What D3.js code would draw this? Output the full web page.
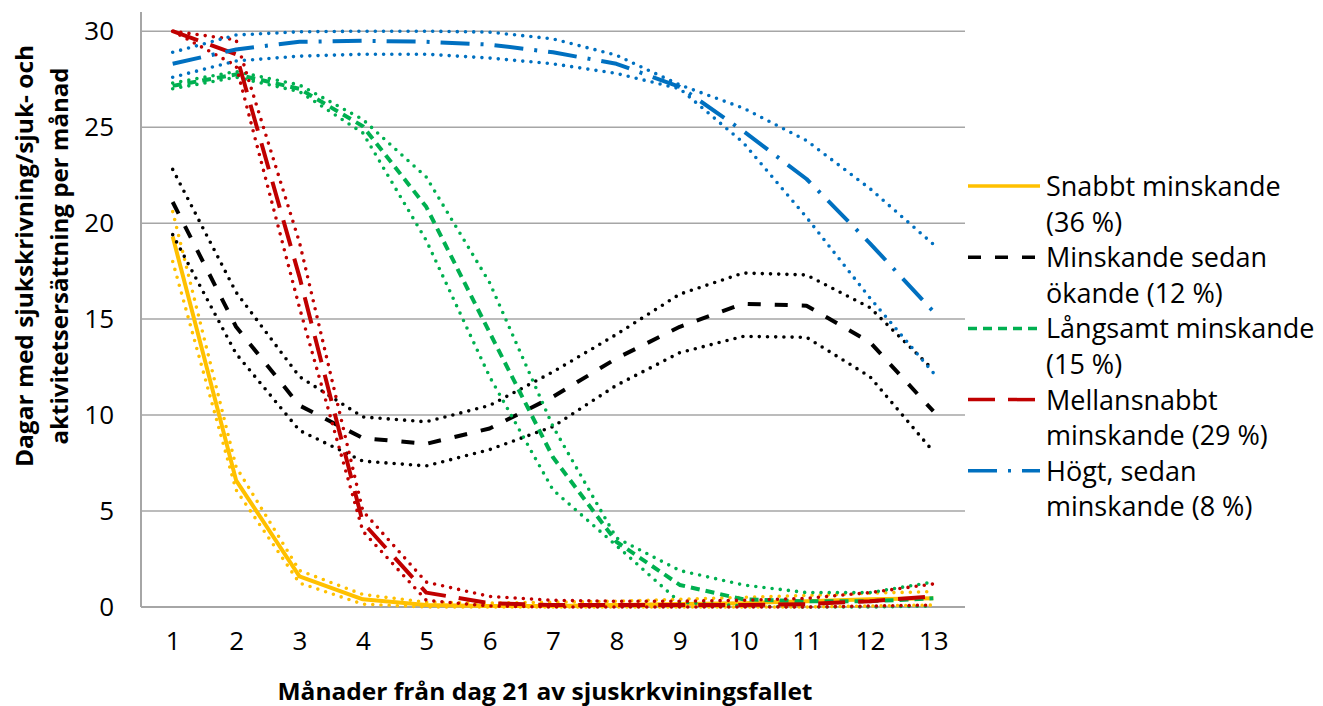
<!DOCTYPE html>
<html lang="sv">
<head>
<meta charset="utf-8">
<script src="https://cdn.jsdelivr.net/npm/d3@7/dist/d3.min.js"></script>
<style>
  html, body { margin: 0; padding: 0; background: #fff; }
  svg { display: block; font-family: "Open Sans", "DejaVu Sans", sans-serif; }
</style>
</head>
<body>
<svg id="chart" width="1323" height="706"></svg>
<script>
(function () {
  "use strict";

  // Månader 1..13 från dag 21
  const months = [1, 2, 3, 4, 5, 6, 7, 8, 9, 10, 11, 12, 13];
  const yTicks = [0, 5, 10, 15, 20, 25, 30];

  // Skattning + övre/nedre konfidensgräns (prickade linjer) per grupp
  const snabbt   = [19.3, 6.6, 1.6, 0.4, 0.1, 0.05, 0.05, 0.1, 0.15, 0.2, 0.3, 0.4, 0.45];
  const snabbtHi = [20.6, 7.3, 1.9, 0.65, 0.25, 0.2, 0.25, 0.3, 0.4, 0.5, 0.6, 0.72, 0.8];
  const snabbtLo = [18.0, 6.1, 1.25, 0.15, 0, 0, 0, 0, 0, 0, 0, 0.05, 0.1];

  const okande   = [21.1, 14.6, 10.5, 8.8, 8.5, 9.3, 10.95, 12.95, 14.6, 15.8, 15.7, 13.8, 10.2];
  const okandeHi = [22.8, 16.4, 12.0, 9.9, 9.65, 10.5, 12.25, 14.2, 16.3, 17.4, 17.3, 15.6, 12.35];
  const okandeLo = [19.4, 13.2, 9.2, 7.6, 7.35, 8.2, 9.4, 11.55, 13.25, 14.1, 14.05, 12.0, 8.1];

  const langsamt   = [27.15, 27.75, 27.0, 25.05, 20.85, 14.3, 7.8, 3.4, 1.15, 0.4, 0.3, 0.3, 0.45];
  const langsamtHi = [27.3, 27.9, 27.2, 25.4, 22.4, 16.9, 9.4, 3.6, 1.9, 1.15, 0.75, 0.75, 1.3];
  const langsamtLo = [27.0, 27.6, 26.85, 24.7, 19.1, 12.0, 6.1, 3.2, 0.25, 0.05, 0, 0, 0.05];

  const mellan   = [30.0, 28.8, 17.2, 4.4, 0.75, 0.2, 0.1, 0.1, 0.1, 0.1, 0.15, 0.3, 0.55];
  const mellanHi = [30.0, 29.55, 19.0, 5.0, 1.3, 0.55, 0.35, 0.3, 0.3, 0.35, 0.45, 0.75, 1.2];
  const mellanLo = [30.0, 28.2, 15.6, 3.95, 0.35, 0.05, 0, 0, 0, 0, 0, 0.05, 0.1];

  const hogt   = [28.3, 29.05, 29.45, 29.5, 29.45, 29.3, 28.9, 28.3, 27.1, 24.8, 22.3, 18.95, 15.4];
  const hogtHi = [28.9, 29.8, 29.97, 30.0, 30.0, 29.95, 29.6, 28.75, 27.2, 26.0, 24.3, 21.8, 18.9];
  const hogtLo = [27.6, 28.45, 28.7, 28.8, 28.8, 28.6, 28.3, 27.8, 27.0, 24.2, 20.3, 16.1, 12.2];

  const legendLabels = [
    ["Snabbt minskande", "(36 %)"],
    ["Minskande sedan", "ökande (12 %)"],
    ["Långsamt minskande", "(15 %)"],
    ["Mellansnabbt", "minskande (29 %)"],
    ["Högt, sedan", "minskande (8 %)"],
  ];

  // Stil per grupp (färg + streckmönster i huvudlinjen)
  const series = [
    { est: snabbt, hi: snabbtHi, lo: snabbtLo, color: "#FFC000", dash: null },
    { est: okande, hi: okandeHi, lo: okandeLo, color: "#000000", dash: "13,14" },
    { est: langsamt, hi: langsamtHi, lo: langsamtLo, color: "#00B050", dash: "9,6" },
    { est: mellan, hi: mellanHi, lo: mellanLo, color: "#C00000", dash: "27,13" },
    { est: hogt, hi: hogtHi, lo: hogtLo, color: "#0070C0", dash: "29,11,3,11" },
  ];

  const plot = { left: 141, right: 965, top: 12, bottom: 607 };
  const svg = d3.select("#chart");

  const x = d3.scalePoint()
    .domain(months)
    .range([plot.left, plot.right])
    .padding(0.5);

  // Axeln går en bit över 30 (Excel-plotten är lite högre än sista stödlinjen)
  const y = d3.scaleLinear()
    .domain([0, 31])
    .range([plot.bottom, plot.top]);

  // Stödlinjer
  svg.append("g")
    .selectAll("line")
    .data(yTicks.filter((d) => d > 0))
    .join("line")
    .attr("x1", plot.left)
    .attr("x2", plot.right)
    .attr("y1", (d) => y(d))
    .attr("y2", (d) => y(d))
    .attr("stroke", "#a6a6a6")
    .attr("stroke-width", 1.5);

  // Y-axel: bara etiketter, själva linjen ritas separat
  const yAxis = svg.append("g")
    .attr("transform", `translate(${plot.left},0)`)
    .call(d3.axisLeft(y).tickValues(yTicks).tickSize(0).tickPadding(27));
  yAxis.select(".domain").remove();
  yAxis.selectAll("text")
    .attr("font-family", "'Open Sans', sans-serif")
    .attr("font-size", 26)
    .attr("fill", "#000");

  const xAxis = svg.append("g")
    .attr("transform", `translate(0,${plot.bottom})`)
    .call(d3.axisBottom(x).tickSize(0).tickPadding(25));
  xAxis.select(".domain").remove();
  xAxis.selectAll("text")
    .attr("font-family", "'Open Sans', sans-serif")
    .attr("font-size", 26)
    .attr("fill", "#000");

  svg.append("line")
    .attr("x1", plot.left).attr("x2", plot.left)
    .attr("y1", plot.top).attr("y2", plot.bottom)
    .attr("stroke", "#a6a6a6").attr("stroke-width", 2);
  svg.append("line")
    .attr("x1", plot.left).attr("x2", plot.right)
    .attr("y1", plot.bottom).attr("y2", plot.bottom)
    .attr("stroke", "#a6a6a6").attr("stroke-width", 2);

  const line = d3.line()
    .x((d, i) => x(months[i]))
    .y((d) => y(d));

  const linesG = svg.append("g").attr("fill", "none");

  series.forEach((s) => {
    // konfidensgränser: runda prickar
    [s.hi, s.lo].forEach((vals) => {
      linesG.append("path")
        .attr("d", line(vals))
        .attr("stroke", s.color)
        .attr("stroke-width", 3.6)
        .attr("stroke-linecap", "round")
        .attr("stroke-dasharray", "0,8.2");
    });
    linesG.append("path")
      .attr("d", line(s.est))
      .attr("stroke", s.color)
      .attr("stroke-width", 4)
      .attr("stroke-linejoin", "round")
      .attr("stroke-dasharray", s.dash);
  });

  // Axeltitlar
  svg.append("text")
    .attr("x", 545)
    .attr("y", 700)
    .attr("text-anchor", "middle")
    .attr("font-weight", "bold")
    .attr("font-size", 23)
    .attr("textLength", 535)
    .attr("lengthAdjust", "spacingAndGlyphs")
    .text("Månader från dag 21 av sjuskrkviningsfallet");

  const yTitle = svg.append("g")
    .attr("transform", "translate(0,256) rotate(-90)")
    .attr("font-weight", "bold")
    .attr("font-size", 23)
    .attr("text-anchor", "middle");
  yTitle.append("text")
    .attr("x", 0).attr("y", 33)
    .attr("textLength", 422)
    .attr("lengthAdjust", "spacingAndGlyphs")
    .text("Dagar med sjukskrivning/sjuk- och");
  yTitle.append("text")
    .attr("x", 0).attr("y", 68)
    .attr("textLength", 377)
    .attr("lengthAdjust", "spacingAndGlyphs")
    .text("aktivitetsersättning per månad");

  // Förklaring
  const rowH = 35.6;
  const legend = svg.append("g").attr("font-size", 27).attr("fill", "#000");
  series.forEach((s, i) => {
    const base = 196 + i * 2 * rowH;
    legend.append("line")
      .attr("x1", 968).attr("x2", 1040)
      .attr("y1", base - 10).attr("y2", base - 10)
      .attr("stroke", s.color)
      .attr("stroke-width", 3.5)
      .attr("stroke-dasharray", s.dash);
    legendLabels[i].forEach((t, j) => {
      legend.append("text")
        .attr("x", 1046)
        .attr("y", base + j * rowH)
        .text(t);
    });
  });
})();
</script>
</body>
</html>
